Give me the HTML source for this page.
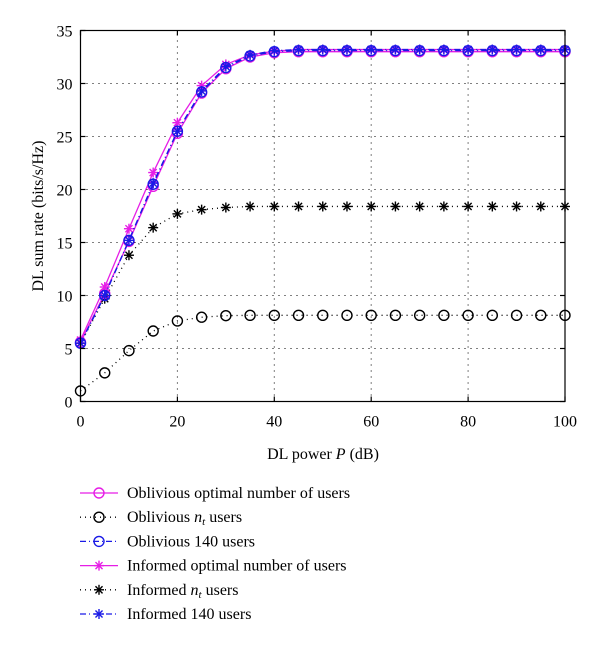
<!DOCTYPE html>
<html><head><meta charset="utf-8"><style>
body{margin:0;background:#fff;}
svg{display:block;font-family:"Liberation Serif",serif;}
</style></head><body>
<svg id="chart" width="600" height="648" viewBox="0 0 600 648">
<g id="grid"></g>
<g id="series"></g>
<rect x="80.5" y="30.5" width="484.5" height="371" fill="none" stroke="#000" stroke-width="1.2"/>
<g id="ticks"></g>
<text x="43" y="216" transform="rotate(-90 43 216)" text-anchor="middle" font-size="16">DL sum rate (bits/s/Hz)</text>
<text x="323" y="459" text-anchor="middle" font-size="16">DL power <tspan font-style="italic">P</tspan> (dB)</text>
<g id="legend"></g>
</svg>
<script>
const xValues=[0,5,10,15,20,25,30,35,40,45,50,55,60,65,70,75,80,85,90,95,100];
const oblOpt=[5.6,10.2,15.1,20.3,25.3,29.1,31.4,32.5,32.9,33.0,33.0,33.0,33.0,33.0,33.0,33.0,33.0,33.0,33.0,33.0,33.0];
const oblNt=[1.0,2.7,4.8,6.65,7.6,7.95,8.1,8.13,8.13,8.13,8.13,8.13,8.13,8.13,8.13,8.13,8.13,8.13,8.13,8.13,8.13];
const obl140=[5.5,10.0,15.2,20.5,25.5,29.2,31.5,32.6,33.0,33.1,33.1,33.1,33.1,33.1,33.1,33.1,33.1,33.1,33.1,33.1,33.1];
const infOpt=[5.8,10.8,16.3,21.6,26.3,29.8,31.8,32.7,33.05,33.2,33.2,33.2,33.2,33.2,33.2,33.2,33.2,33.2,33.2,33.2,33.2];
const infNt=[5.5,9.7,13.8,16.4,17.7,18.1,18.3,18.4,18.4,18.4,18.4,18.4,18.4,18.4,18.4,18.4,18.4,18.4,18.4,18.4,18.4];
const inf140=[5.5,10.0,15.2,20.6,25.5,29.3,31.6,32.7,33.1,33.2,33.2,33.2,33.2,33.2,33.2,33.2,33.2,33.2,33.2,33.2,33.2];
const xTicks=[0,20,40,60,80,100];
const yTicks=[0,5,10,15,20,25,30,35];
const legendLabels=["Oblivious optimal number of users","Oblivious n_t users","Oblivious 140 users","Informed optimal number of users","Informed n_t users","Informed 140 users"];

const NS="http://www.w3.org/2000/svg";
const X0=80.5,X1=565,Y0=401.5,Y1=30.5;
const sx=v=>X0+(v-0)/(100-0)*(X1-X0);
const sy=v=>Y0-(v-0)/(35-0)*(Y0-Y1);
function mk(tag,attrs,parent){const e=document.createElementNS(NS,tag);for(const k in attrs)e.setAttribute(k,attrs[k]);parent.appendChild(e);return e;}
const grid=document.getElementById('grid'),ticks=document.getElementById('ticks'),ser=document.getElementById('series'),leg=document.getElementById('legend');
xTicks.forEach(t=>{
  const x=sx(t);
  if(t>0&&t<100){const l=mk('line',{x1:x,x2:x,y1:Y0,y2:Y1,stroke:'#000','stroke-width':1,'stroke-dasharray':'1 5'},grid);
  
  }
  mk('line',{x1:x,x2:x,y1:Y0,y2:Y0-5,stroke:'#000','stroke-width':1.2},ticks);
  mk('line',{x1:x,x2:x,y1:Y1,y2:Y1+5,stroke:'#000','stroke-width':1.2},ticks);
  const tx=mk('text',{x:x,y:Y0+25,'text-anchor':'middle','font-size':16},ticks);tx.textContent=t;
  
  
});
yTicks.forEach(t=>{
  const y=sy(t);
  if(t>0&&t<35){const l=mk('line',{x1:X0,x2:X1,y1:y,y2:y,stroke:'#000','stroke-width':1,'stroke-dasharray':'1 5'},grid);
  
  }
  mk('line',{x1:X0,x2:X0+5,y1:y,y2:y,stroke:'#000','stroke-width':1.2},ticks);
  mk('line',{x1:X1,x2:X1-5,y1:y,y2:y,stroke:'#000','stroke-width':1.2},ticks);
  const tx=mk('text',{x:X0-8,y:y+6,'text-anchor':'end','font-size':16},ticks);tx.textContent=t;
  
  
});
function marker(type,x,y,color,g){
  if(type==='o'){mk('circle',{cx:x,cy:y,r:5,fill:'none',stroke:color,'stroke-width':1.4},g);}
  else{const r=5;for(let a=0;a<4;a++){const an=a*Math.PI/4;mk('line',{x1:x-r*Math.cos(an),y1:y-r*Math.sin(an),x2:x+r*Math.cos(an),y2:y+r*Math.sin(an),stroke:color,'stroke-width':1.4},g);}}
}
const seriesDefs=[
 {d:oblNt,c:'#000',m:'o',dash:'1 4',name:'series-oblivious-nt'},
 {d:infNt,c:'#000',m:'*',dash:'1 4',name:'series-informed-nt'},
 {d:oblOpt,c:'#e61ee6',m:'o',dash:'',name:'series-oblivious-optimal'},
 {d:infOpt,c:'#e61ee6',m:'*',dash:'',name:'series-informed-optimal'},
 {d:obl140,c:'#1a1ae6',m:'o',dash:'6 3 1 3',name:'series-oblivious-140'},
 {d:inf140,c:'#1a1ae6',m:'*',dash:'6 3 1 3',name:'series-informed-140'}
];
seriesDefs.forEach(s=>{
  const g=mk('g',{},ser);
  
  
  const pts=xValues.map((x,i)=>sx(x)+','+sy(s.d[i])).join(' ');
  const a={points:pts,fill:'none',stroke:s.c,'stroke-width':1.3};if(s.dash)a['stroke-dasharray']=s.dash;
  mk('polyline',a,g);
  xValues.forEach((x,i)=>marker(s.m,sx(x),sy(s.d[i]),s.c,g));
});
const legStyles=[{c:'#e61ee6',m:'o',dash:''},{c:'#000',m:'o',dash:'1 4'},{c:'#1a1ae6',m:'o',dash:'6 3 1 3'},{c:'#e61ee6',m:'*',dash:''},{c:'#000',m:'*',dash:'1 4'},{c:'#1a1ae6',m:'*',dash:'6 3 1 3'}];
legendLabels.forEach((lab,i)=>{
  const y=493+i*24.2;
  const g=mk('g',{},leg);
  
  
  const st=legStyles[i];
  const a={x1:80,x2:118,y1:y,y2:y,stroke:st.c,'stroke-width':1.3};if(st.dash)a['stroke-dasharray']=st.dash;
  mk('line',a,g);marker(st.m,99,y,st.c,g);
  const t=mk('text',{x:127,y:y+5,'font-size':16},g);
  const parts=lab.split('n_t');
  if(parts.length>1){t.appendChild(document.createTextNode(parts[0]));
    const n=mk('tspan',{'font-style':'italic'},t);n.textContent='n';
    const s=mk('tspan',{'font-style':'italic','font-size':11,dy:3},t);s.textContent='t';
    const r=mk('tspan',{dy:-3},t);r.textContent=parts[1];}
  else t.textContent=lab;
});
</script>
</body></html>
